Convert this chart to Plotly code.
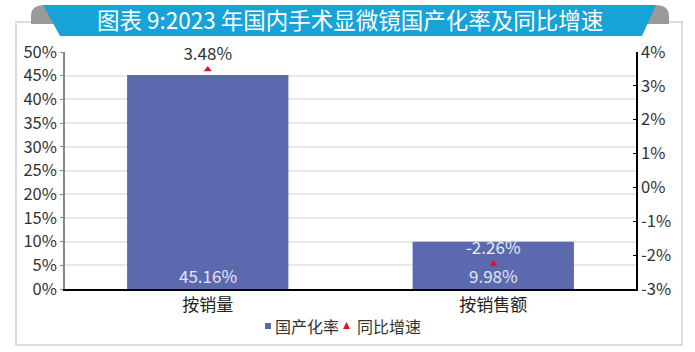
import plotly.graph_objects as go

categories = ["按销量", "按销售额"]
localization_rate = [0.4516, 0.0998]
yoy_growth = [0.0348, -0.0226]
left_ticks = [0, 0.05, 0.10, 0.15, 0.20, 0.25, 0.30, 0.35, 0.40, 0.45, 0.50]
left_tick_text = ["0%", "5%", "10%", "15%", "20%", "25%", "30%", "35%", "40%", "45%", "50%"]
right_ticks = [-0.03, -0.02, -0.01, 0, 0.01, 0.02, 0.03, 0.04]
right_tick_text = ["-3%", "-2%", "-1%", "0%", "1%", "2%", "3%", "4%"]
title_text = "图表 9:2023 年国内手术显微镜国产化率及同比增速"
series_names = ["国产化率", "同比增速"]

W, H = 695, 352
L, R, T, B = 65, 636, 52, 289
FONT = "Noto Sans CJK SC, Noto Sans, sans-serif"
BAR_COLOR = "#5b6aae"
TRI_COLOR = "#e0102a"


def px(x):
    return (x - L) / (R - L)


def py(y):
    return (B - y) / (B - T)


def path(points):
    return "M " + " L ".join(f"{px(x)},{py(y)}" for x, y in points) + " Z"


def fmt(v):
    return f"{v * 100:.2f}%"


fig = go.Figure()
fig.add_trace(go.Bar(
    x=categories, y=localization_rate, name=series_names[0],
    marker=dict(color=BAR_COLOR, line=dict(width=0)),
    yaxis="y", showlegend=False,
))
fig.add_trace(go.Scatter(
    x=categories, y=yoy_growth, name=series_names[1], mode="markers+text",
    marker=dict(symbol="triangle-up", color=TRI_COLOR, size=7),
    text=[fmt(v) for v in yoy_growth], textposition="top center",
    textfont=dict(color=["#333333", "#e8eaf5"], size=17, family=FONT),
    cliponaxis=False,
    yaxis="y2", showlegend=False,
))

annotations = [dict(text=title_text, xref="paper", yref="paper",
                    x=px(350), y=py(19), xanchor="center", yanchor="middle",
                    showarrow=False, font=dict(size=22.5, color="white", family=FONT))]
# bar value labels at bar base
for c, v in zip(categories, localization_rate):
    annotations.append(dict(text=fmt(v), x=c, y=0, xref="x", yref="y",
                            xanchor="center", yanchor="bottom", showarrow=False, yshift=-1,
                            font=dict(size=17, color="#e4e6f3", family=FONT)))
# custom legend text
annotations.append(dict(text=series_names[0], xref="paper", yref="paper",
                        x=px(273), y=py(326), xanchor="left", yanchor="middle",
                        showarrow=False, font=dict(size=16, color="#333333", family=FONT)))
annotations.append(dict(text=series_names[1], xref="paper", yref="paper",
                        x=px(355), y=py(326), xanchor="left", yanchor="middle",
                        showarrow=False, font=dict(size=16, color="#333333", family=FONT)))

shapes = [
    # outer frame
    dict(type="path", xref="paper", yref="paper", layer="below",
         path=path([(16, 22), (682, 22), (682, 345), (16, 345)]),
         line=dict(color="#dcdcdc", width=2), fillcolor="rgba(0,0,0,0)"),
    # gray tabs
    dict(type="path", xref="paper", yref="paper", layer="above",
         path=f"M {px(31)},{py(24)} L {px(31)},{py(16)} Q {px(31)},{py(5)} {px(45)},{py(5)} "
              f"L {px(655)},{py(5)} Q {px(669)},{py(5)} {px(669)},{py(16)} L {px(669)},{py(24)} Z",
         line=dict(width=0), fillcolor="#9a9a9a"),
    # banner
    dict(type="path", xref="paper", yref="paper", layer="above",
         path=path([(43, 5), (656, 5), (642, 36), (60, 36)]),
         line=dict(width=0), fillcolor="#17a3d7"),
    # legend symbols
    dict(type="rect", xref="paper", yref="paper", layer="above",
         x0=px(265), x1=px(271), y0=py(329), y1=py(323),
         line=dict(width=0), fillcolor=BAR_COLOR),
    dict(type="path", xref="paper", yref="paper", layer="above",
         path=path([(343, 329), (350, 329), (346.5, 322)]),
         line=dict(width=0), fillcolor=TRI_COLOR),
]

fig.update_layout(
    width=W, height=H,
    margin=dict(l=L, r=W - R, t=T, b=H - B, pad=0),
    paper_bgcolor="white", plot_bgcolor="white",
    font=dict(family=FONT, color="#333333", size=14),
    bargap=0.435,
    showlegend=False,
    xaxis=dict(type="category", range=[-0.5, 1.5], showgrid=False,
               showline=True, linecolor="#000000", linewidth=2,
               ticks="", tickfont=dict(size=17, color="#222222")),
    yaxis=dict(range=[0, 0.5], tickvals=left_ticks, ticktext=left_tick_text,
               showgrid=True, gridcolor="#e8e8e8", gridwidth=1.5,
               showline=True, linecolor="#8a8580", linewidth=1.5,
               ticks="outside", ticklen=3, tickcolor="#8a8580",
               tickfont=dict(size=16.5, color="#333333"), zeroline=False),
    yaxis2=dict(range=[-0.03, 0.04], tickvals=right_ticks, ticktext=right_tick_text,
                overlaying="y", side="right", showgrid=False, zeroline=False,
                showline=True, linecolor="#000000", linewidth=1.5,
                ticks="inside", ticklen=3, tickcolor="#000000",
                tickfont=dict(size=16.5, color="#333333")),
    shapes=shapes,
    annotations=annotations,
)

fig.write_html("out.html")
